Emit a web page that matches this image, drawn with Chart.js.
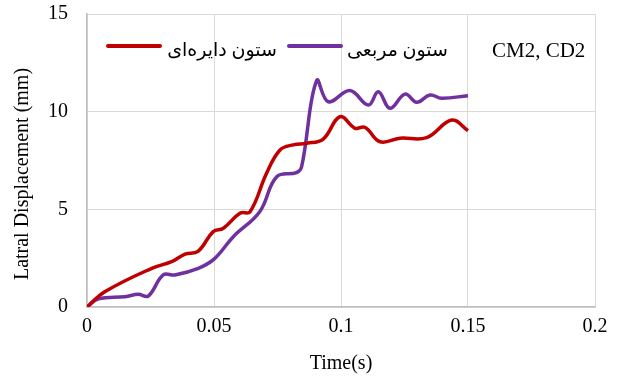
<!DOCTYPE html>
<html>
<head>
<meta charset="utf-8">
<script src="https://cdn.jsdelivr.net/npm/chart.js@4/dist/chart.umd.min.js"></script>
<style>
  html, body { margin: 0; padding: 0; background: #fff; }
  #wrap { width: 618px; height: 380px; position: relative; }
</style>
</head>
<body>
<div id="wrap"><canvas id="c"></canvas></div>
<script>
// Time (s) and lateral displacement (mm) for the circular column
const timeCircular = [0, 0.007, 0.0255, 0.0333, 0.0386, 0.0437, 0.0497, 0.0537, 0.0602, 0.0642, 0.0707, 0.076, 0.0812, 0.0865, 0.093, 0.0996, 0.1055, 0.1094, 0.1154, 0.1232, 0.1337, 0.1436, 0.15];
const dispCircular = [0, 0.78, 1.98, 2.32, 2.71, 2.85, 3.86, 4.03, 4.8, 4.88, 6.85, 8.04, 8.3, 8.38, 8.6, 9.74, 9.15, 9.2, 8.46, 8.64, 8.67, 9.57, 9.03];

// Time (s) and lateral displacement (mm) for the square column
const timeSquare = [0, 0.0045, 0.015, 0.0202, 0.0241, 0.03, 0.0346, 0.0438, 0.05, 0.0576, 0.068, 0.0747, 0.0825, 0.0845, 0.0904, 0.095, 0.1035, 0.1108, 0.1147, 0.1193, 0.1252, 0.1298, 0.135, 0.1396, 0.15];
const dispSquare = [0, 0.42, 0.53, 0.65, 0.56, 1.64, 1.64, 1.98, 2.45, 3.6, 4.88, 6.67, 6.88, 7.18, 11.59, 10.51, 11.08, 10.34, 11.02, 10.17, 10.9, 10.48, 10.85, 10.69, 10.82];

const seriesNames = ['ستون دایره‌ای', 'ستون مربعی'];
const caseLabel = 'CM2, CD2';
const xTicks = [0, 0.05, 0.1, 0.15, 0.2];
const yTicks = [0, 5, 10, 15];
const xTitle = 'Time(s)';
const yTitle = 'Latral Displacement (mm)';

const serif = "'Liberation Serif', 'Times New Roman', 'DejaVu Sans', serif";
const RED = '#C00000';
const PURPLE = '#7030A0';

const toPoints = (xs, ys) => xs.map((x, i) => ({ x: x, y: ys[i] }));

// In-plot legend row plus the case label, and the rotated y-axis title
const overlay = {
  id: 'overlay',
  afterDraw(chart) {
    const ctx = chart.ctx;
    ctx.save();
    ctx.lineCap = 'round';
    ctx.lineWidth = 4;
    const lineY = 46;
    const items = [
      { color: RED, x0: 108, x1: 160, text: seriesNames[0], tx: 277 },
      { color: PURPLE, x0: 289, x1: 341, text: seriesNames[1], tx: 448 }
    ];
    ctx.fillStyle = '#000';
    ctx.textBaseline = 'alphabetic';
    items.forEach(it => {
      ctx.strokeStyle = it.color;
      ctx.beginPath();
      ctx.moveTo(it.x0, lineY);
      ctx.lineTo(it.x1, lineY);
      ctx.stroke();
      ctx.font = "19px " + serif;
      ctx.textAlign = 'right';
      ctx.fillText(it.text, it.tx, 56);
    });
    ctx.font = "21px " + serif;
    ctx.textAlign = 'left';
    ctx.fillText(caseLabel, 492, 57);

    // y-axis title
    ctx.translate(23, 174);
    ctx.rotate(-Math.PI / 2);
    ctx.font = "20px " + serif;
    ctx.textAlign = 'center';
    ctx.textBaseline = 'middle';
    ctx.fillText(yTitle, 0, 0);
    ctx.restore();
  }
};

new Chart(document.getElementById('c'), {
  type: 'line',
  data: {
    datasets: [
      {
        label: seriesNames[0],
        data: toPoints(timeCircular, dispCircular),
        borderColor: RED,
        backgroundColor: RED,
        borderWidth: 3.5,
        pointRadius: 0,
        tension: 0.4,
        fill: false
      },
      {
        label: seriesNames[1],
        data: toPoints(timeSquare, dispSquare),
        borderColor: PURPLE,
        backgroundColor: PURPLE,
        borderWidth: 3.5,
        pointRadius: 0,
        tension: 0.4,
        fill: false
      }
    ]
  },
  options: {
    responsive: true,
    maintainAspectRatio: false,
    animation: false,
    layout: { padding: { top: 14, right: 23, bottom: 0, left: 0 } },
    plugins: {
      legend: { display: false },
      tooltip: { enabled: false }
    },
    scales: {
      x: {
        type: 'linear',
        min: 0,
        max: 0.2,
        afterFit(scale) {
          scale.height = 73;
          scale.paddingLeft = 0;
          scale.paddingRight = 0;
        },
        afterBuildTicks(scale) { scale.ticks = xTicks.map(v => ({ value: v })); },
        ticks: {
          font: { family: serif, size: 20 },
          color: '#000',
          padding: 8,
          maxRotation: 0,
          callback: v => String(v)
        },
        grid: { color: '#D9D9D9', lineWidth: 1, drawTicks: false },
        border: { display: true, color: '#BFBFBF', width: 1.5 },
        title: {
          display: true,
          text: xTitle,
          color: '#000',
          font: { family: serif, size: 20 },
          padding: 4
        }
      },
      y: {
        type: 'linear',
        min: 0,
        max: 15,
        afterFit(scale) {
          scale.width = 87;
          scale.paddingTop = 0;
          scale.paddingBottom = 0;
        },
        afterBuildTicks(scale) { scale.ticks = yTicks.map(v => ({ value: v })); },
        ticks: {
          font: { family: serif, size: 20 },
          color: '#000',
          padding: 19,
          callback: v => String(v)
        },
        grid: { color: '#D9D9D9', lineWidth: 1, drawTicks: false },
        border: { display: true, color: '#BFBFBF', width: 1.5 }
      }
    }
  },
  plugins: [overlay]
});
</script>
</body>
</html>
